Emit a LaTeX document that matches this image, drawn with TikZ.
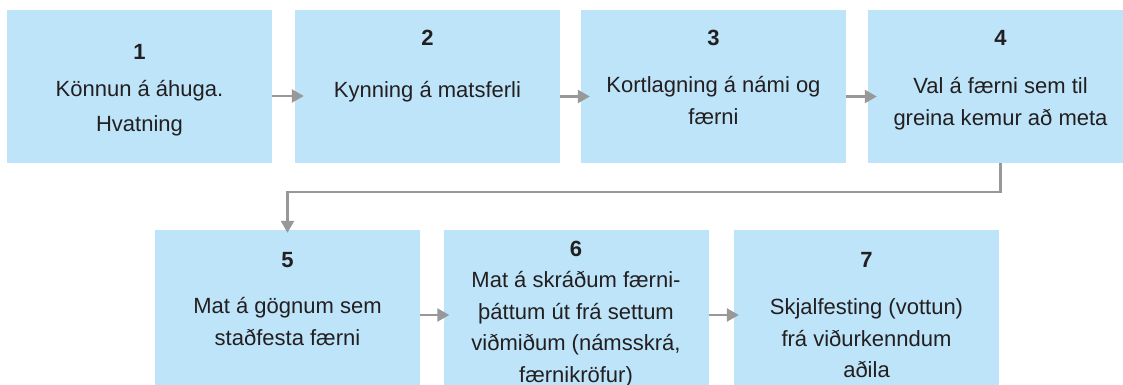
\documentclass[tikz,border=0pt]{standalone}
\usepackage{fontspec}
\setmainfont{Liberation Sans}
\usetikzlibrary{arrows.meta}
\definecolor{paleblue}{RGB}{189, 228, 249}
\definecolor{arrowgray}{RGB}{152, 152, 152}
\definecolor{inkdark}{RGB}{35, 31, 32}

\begin{document}
\begin{tikzpicture}[x=1pt, y=-1pt,
        box/.style={fill=paleblue, draw=none, minimum width=265pt, minimum height=153pt, inner sep=0pt},
        num/.style={anchor=base, text=inkdark, font=\fontsize{22}{31}\selectfont\bfseries},
        txt/.style={anchor=base, align=center, text=inkdark, font=\fontsize{22}{31.5}\selectfont},
        arr/.style={draw=arrowgray, line width=2.5pt, -{Triangle[length=12pt, width=13pt]}}]
            \path[use as bounding box, clip] (0, 0) rectangle (1123, 385);
            \node[box]                         (b1) at ( 139.5,  86.5) {};
            \node[box]                         (b2) at ( 427.5,  86.5) {};
            \node[box]                         (b3) at ( 713.5,  86.5) {};
            \node[box]                         (b4) at (1000.5,  86.5) {};
            \node[box, minimum height=155pt]   (b5) at ( 287.5, 307.5) {};
            \node[box, minimum height=155pt]   (b6) at ( 576.0, 307.5) {};
            \node[box, minimum height=155pt]   (b7) at ( 866.5, 307.5) {};
            \node[num] (n1) at ( 139.5,  60.0) {1};
            \node[num] (n2) at ( 427.5,  45.5) {2};
            \node[num] (n3) at ( 713.5,  45.5) {3};
            \node[num] (n4) at (1000.5,  45.5) {4};
            \node[num] (n5) at ( 287.5, 267.0) {5};
            \node[num] (n6) at ( 576.0, 256.5) {6};
            \node[num] (n7) at ( 866.5, 267.0) {7};
            \node[txt] (t1) at ( 139.5, 131.5) {Könnun á áhuga.\\[3.5pt]Hvatning};
            \node[txt] (t2) at ( 427.5,  98.0) {Kynning á matsferli};
            \node[txt] (t3) at ( 713.5, 124.5) {Kortlagning á námi og\\færni};
            \node[txt] (t4) at (1000.5, 125.0) {Val á færni sem til\\greina kemur að meta};
            \node[txt] (t5) at ( 287.5, 345.0) {Mat á gögnum sem\\staðfesta færni};
            \node[txt] (t6) at ( 576.0, 382.0) {Mat á skráðum færni-\\þáttum út frá settum\\viðmiðum (námsskrá,\\færnikröfur)};
            \node[txt] (t7) at ( 866.5, 377.5) {Skjalfesting (vottun)\\frá viðurkenndum\\aðila};
            \draw[arr] ([yshift=-9.5pt]b1.east) -- ([xshift=9pt, yshift=-9.5pt]b2.west);
            \draw[arr] ([yshift=-10pt]b2.east)  -- ([xshift=9pt, yshift=-10pt]b3.west);
            \draw[arr] ([yshift=-10pt]b3.east)  -- ([xshift=9pt, yshift=-10pt]b4.west);
            \draw[arr] (b4.south) -- ++(0, 29) -| ([yshift=-3pt]b5.north);
            \draw[arr] ([yshift=-7.5pt]b5.east) -- ([xshift=6pt, yshift=-7.5pt]b6.west);
            \draw[arr] ([yshift=-7.5pt]b6.east) -- ([xshift=5pt, yshift=-7.5pt]b7.west);
        \end{tikzpicture}
\end{document}
